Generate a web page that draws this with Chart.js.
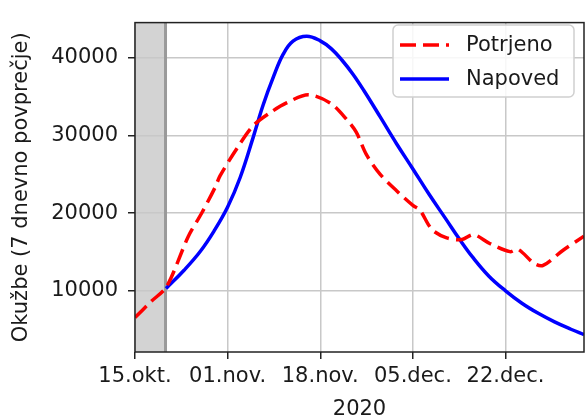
<!DOCTYPE html>
<html>
<head>
<meta charset="utf-8">
<script src="https://cdn.jsdelivr.net/npm/chart.js@4"></script>
<style>
  html, body { margin: 0; padding: 0; background: #fff; }
  #wrap { width: 585px; height: 419px; }
</style>
</head>
<body>
<div id="wrap"><canvas id="covidChart" width="585" height="419"></canvas></div>
<script>
// Dnevi od 15.okt. 2020
const xTickDays = [0, 17, 34, 51, 68];
const xTickLabels = ['15.okt.', '01.nov.', '18.nov.', '05.dec.', '22.dec.'];
const yTicks = [10000, 20000, 30000, 40000];

const potrjenoDays = [0, 3, 5.8, 9.8, 12.2, 14.7, 15.6, 18.7, 21.7, 24.8, 27.8, 31.8, 35.8, 38.8, 40.6, 42.5, 45, 48, 51, 52.3, 54.5, 57.2, 60, 62.1, 65.1, 68.8, 70.3, 73.3, 74.9, 78.5, 82.4];
const potrjenoValues = [6560, 8650, 10540, 17030, 19960, 23320, 24800, 28340, 31270, 32940, 34200, 35250, 34200, 32110, 30430, 27500, 25000, 22890, 21000, 20380, 17900, 16820, 16600, 17240, 16100, 15050, 15350, 13500, 13270, 15200, 17040];

const napovedDays = [5.7, 9, 12, 14.5, 17, 19.3, 21.7, 23.5, 25.4, 27.2, 29.0, 31.5, 34, 36, 38, 40, 42, 45, 48, 51, 54, 57, 59.6, 62, 65, 68, 71, 74, 77, 80, 82.4];
const napovedValues = [10300, 12650, 15100, 17700, 20800, 24600, 29800, 33900, 37550, 40480, 42160, 42790, 42200, 41200, 39700, 37900, 35800, 32400, 28950, 25700, 22400, 19300, 16600, 14300, 11850, 10000, 8400, 7100, 6000, 5050, 4350];

const shadeEnd = 5.6; // konec sivega obmocja

const FONT = 'DejaVu Sans';
const TEXT = '#1a1a1a';
const SIZE = 21;

function toPoints(days, values) {
    return days.map((d, i) => ({ x: d, y: values[i] }));
}

// sivo obmocje, okvir in legenda
const extras = {
    id: 'extras',
    beforeDraw(chart) {
        const { ctx, chartArea: a, scales } = chart;
        const xe = scales.x.getPixelForValue(shadeEnd);
        ctx.save();
        ctx.fillStyle = '#d3d3d3';
        ctx.fillRect(a.left, a.top, xe - a.left, a.bottom - a.top);
        ctx.restore();
    },
    beforeDatasetsDraw(chart) {
        const { ctx, chartArea: a, scales } = chart;
        const xe = scales.x.getPixelForValue(shadeEnd);
        ctx.save();
        ctx.strokeStyle = '#9a9a9a';
        ctx.lineWidth = 3;
        ctx.beginPath();
        ctx.moveTo(xe, a.top);
        ctx.lineTo(xe, a.bottom);
        ctx.stroke();
        ctx.restore();
    },
    afterDatasetsDraw(chart) {
        const { ctx, chartArea: a } = chart;
        ctx.save();
        ctx.strokeStyle = '#222';
        ctx.lineWidth = 1.5;
        ctx.strokeRect(a.left, a.top, a.right - a.left, a.bottom - a.top);

        // legenda
        const bx = 393, by = 25, bw = 181, bh = 72, r = 5;
        ctx.beginPath();
        ctx.roundRect(bx, by, bw, bh, r);
        ctx.fillStyle = 'rgba(255,255,255,0.85)';
        ctx.fill();
        ctx.strokeStyle = '#d0d0d0';
        ctx.lineWidth = 1.5;
        ctx.stroke();

        const rows = [45, 79];
        chart.data.datasets.forEach((ds, i) => {
            const y = rows[i];
            ctx.beginPath();
            ctx.setLineDash(ds.borderDash || []);
            ctx.strokeStyle = ds.borderColor;
            ctx.lineWidth = ds.borderWidth;
            ctx.moveTo(400, y);
            ctx.lineTo(449, y);
            ctx.stroke();
            ctx.setLineDash([]);
            ctx.fillStyle = TEXT;
            ctx.font = SIZE + 'px "' + FONT + '"';
            ctx.textBaseline = 'middle';
            ctx.textAlign = 'left';
            ctx.fillText(ds.label, 466, y + 1);
        });
        ctx.restore();
    }
};

new Chart(document.getElementById('covidChart'), {
    type: 'line',
    data: {
        datasets: [{
            label: 'Potrjeno',
            data: toPoints(potrjenoDays, potrjenoValues),
            borderColor: '#ff0000',
            borderWidth: 3.5,
            borderDash: [16, 7],
            pointRadius: 0,
            tension: 0.3,
            fill: false
        }, {
            label: 'Napoved',
            data: toPoints(napovedDays, napovedValues),
            borderColor: '#0000ff',
            borderWidth: 3.5,
            pointRadius: 0,
            tension: 0.4,
            fill: false
        }]
    },
    options: {
        responsive: false,
        animation: false,
        devicePixelRatio: 1,
        layout: { padding: { top: 14, right: 1, left: 0, bottom: 0 } },
        plugins: {
            legend: { display: false },
            tooltip: { enabled: false }
        },
        scales: {
            x: {
                type: 'linear',
                min: 0,
                max: 82.4,
                afterBuildTicks: s => { s.ticks = xTickDays.map(v => ({ value: v })); },
                afterFit: s => { s.height = 67; },
                grid: { color: '#c8c8c8', lineWidth: 1.5, tickLength: 7, tickColor: '#222', tickWidth: 1.5 },
                border: { display: false },
                ticks: {
                    color: TEXT,
                    font: { family: FONT, size: SIZE },
                    padding: 5,
                    maxRotation: 0,
                    autoSkip: false,
                    callback: v => xTickLabels[xTickDays.indexOf(v)]
                },
                title: {
                    display: true,
                    text: '2020',
                    color: TEXT,
                    font: { family: FONT, size: SIZE, lineHeight: 0.9 },
                    padding: { top: 0, bottom: 0 }
                }
            },
            y: {
                min: 2120,
                max: 44550,
                afterBuildTicks: s => { s.ticks = yTicks.map(v => ({ value: v })); },
                afterFit: s => { s.width = 135; },
                grid: { color: '#c8c8c8', lineWidth: 1.5, tickLength: 7, tickColor: '#222', tickWidth: 1.5 },
                border: { display: false },
                ticks: {
                    color: TEXT,
                    font: { family: FONT, size: SIZE },
                    padding: 10,
                    callback: v => String(v)
                },
                title: {
                    display: true,
                    text: 'Okužbe (7 dnevno povprečje)',
                    color: TEXT,
                    font: { family: FONT, size: SIZE },
                    padding: { top: 9, bottom: 0 }
                }
            }
        }
    },
    plugins: [extras]
});
</script>
</body>
</html>
